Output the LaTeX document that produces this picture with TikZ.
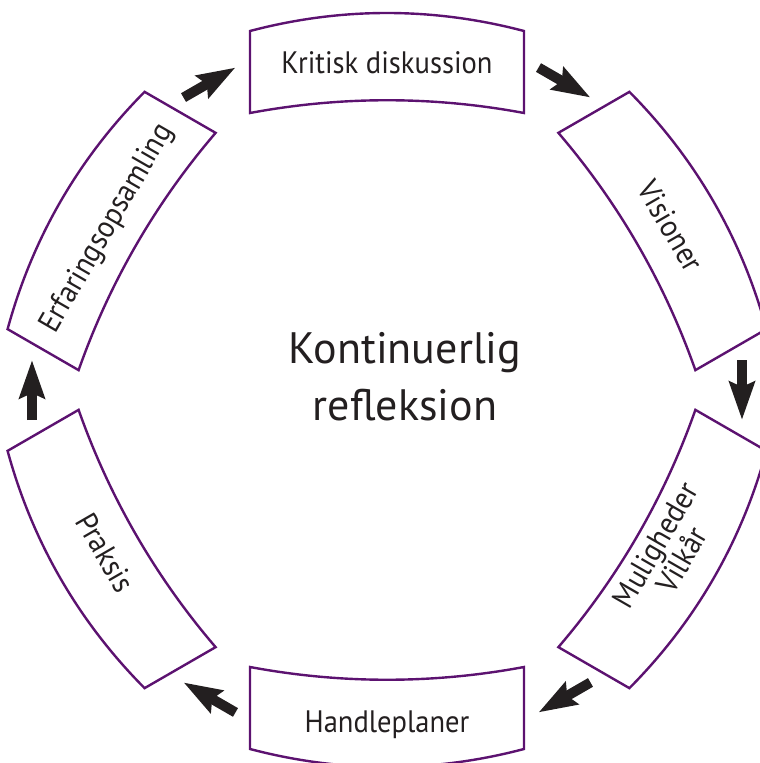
\documentclass[tikz,border=0pt]{standalone}
\usepackage{fontspec}
\setmainfont{PT Sans}[FakeStretch=0.92]
\newfontfamily\centrefont{PT Sans}
\usetikzlibrary{arrows.meta,calc}
\definecolor{cyclepurple}{RGB}{92,18,112}
\definecolor{inkblack}{RGB}{35,31,32}

\begin{document}
\begin{tikzpicture}[
                x=1pt, y=1pt,
                boxline/.style={draw=cyclepurple, line width=2.4pt},
                steplabel/.style={text=inkblack, inner sep=0pt, align=center, font=\fontsize{31}{22}\selectfont},
                caplabel/.style={steplabel, text height=22pt, text depth=0pt},
                bigarrow/.style={draw=inkblack, line width=10pt, -{Stealth[length=38pt, width=25pt, inset=5pt]}}
            ]

                % Frame of the page
                \useasboundingbox (-387,-373) rectangle (373,390);

                % The six bent boxes round the circle
                \begin{scope}[shift={(90:318)}, rotate=0]
                    \draw[boxline] (-137,-41) .. controls (-46,-24) and (46,-24) .. (137,-41) -- (137,41) .. controls (46,65) and (-46,65) .. (-137,41) -- cycle;
                \end{scope}
                \begin{scope}[shift={(30:318)}, rotate=-60]
                    \draw[boxline] (-137,-41) .. controls (-46,-24) and (46,-24) .. (137,-41) -- (137,41) .. controls (46,65) and (-46,65) .. (-137,41) -- cycle;
                \end{scope}
                \begin{scope}[shift={(-30:318)}, rotate=-120]
                    \draw[boxline] (-137,-41) .. controls (-46,-24) and (46,-24) .. (137,-41) -- (137,41) .. controls (46,65) and (-46,65) .. (-137,41) -- cycle;
                \end{scope}
                \begin{scope}[shift={(-90:318)}, rotate=180]
                    \draw[boxline] (-137,-41) .. controls (-46,-24) and (46,-24) .. (137,-41) -- (137,41) .. controls (46,65) and (-46,65) .. (-137,41) -- cycle;
                \end{scope}
                \begin{scope}[shift={(-150:318)}, rotate=120]
                    \draw[boxline] (-137,-41) .. controls (-46,-24) and (46,-24) .. (137,-41) -- (137,41) .. controls (46,65) and (-46,65) .. (-137,41) -- cycle;
                \end{scope}
                \begin{scope}[shift={(150:318)}, rotate=60]
                    \draw[boxline] (-137,-41) .. controls (-46,-24) and (46,-24) .. (137,-41) -- (137,41) .. controls (46,65) and (-46,65) .. (-137,41) -- cycle;
                \end{scope}

                % Labels of the boxes
                \node[caplabel] (kritisk) at (90:327) {Kritisk diskussion};
                \node[caplabel, rotate=-60] (visioner) at (30:328) {Visioner};
                \node[steplabel, rotate=60] (muligheder) at (-30:325) {Muligheder\\Vilkår};
                \node[caplabel] (handleplaner) at (-90:331) {Handleplaner};
                \node[caplabel, rotate=-60] (praksis) at (-150:325) {Praksis};
                \node[caplabel, rotate=60] (erfaring) at (150:326) {Erfaringsopsamling};

                % Centre text
                \node[text=inkblack, inner sep=0pt, align=center, font=\centrefont\fontsize{44}{57}\selectfont] (centre) at (18,13) {Kontinuerlig\\refleksion};

                % Arrow ends between the boxes
                \coordinate (tailA) at ($(120:355)+(210:30)$);
                \coordinate (tipA) at ($(120:355)+(30:30)$);
                \coordinate (tailB) at ($(60:355)+(150:30)$);
                \coordinate (tipB) at ($(60:355)+(-30:30)$);
                \coordinate (tailC) at ($(0:355)+(90:30)$);
                \coordinate (tipC) at ($(0:355)+(-90:30)$);
                \coordinate (tailD) at ($(-60:355)+(30:30)$);
                \coordinate (tipD) at ($(-60:355)+(-150:30)$);
                \coordinate (tailE) at ($(-120:355)+(-30:30)$);
                \coordinate (tipE) at ($(-120:355)+(150:30)$);
                \coordinate (tailF) at ($(180:355)+(-90:30)$);
                \coordinate (tipF) at ($(180:355)+(90:30)$);

                % Clockwise arrows
                \draw[bigarrow] (tailA) -- (tipA);
                \draw[bigarrow] (tailB) -- (tipB);
                \draw[bigarrow] (tailC) -- (tipC);
                \draw[bigarrow] (tailD) -- (tipD);
                \draw[bigarrow] (tailE) -- (tipE);
                \draw[bigarrow] (tailF) -- (tipF);

            \end{tikzpicture}
\end{document}
